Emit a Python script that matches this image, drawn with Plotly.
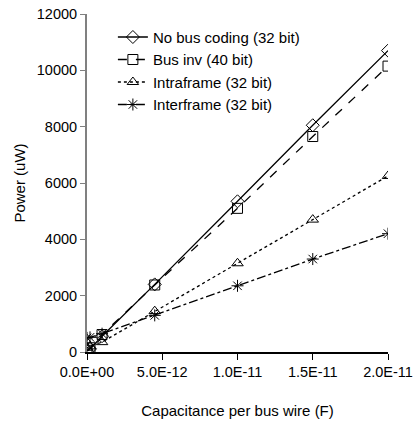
import plotly.graph_objects as go

cap = [0, 2e-13, 1e-12, 4.5e-12, 1e-11, 1.5e-11, 2e-11]
no_bus = [30, 110, 560, 2400, 5350, 8050, 10700]
bus_inv = [60, 150, 620, 2380, 5100, 7650, 10150]
intraframe = [150, 200, 350, 1450, 3150, 4700, 6250]
interframe = [500, 520, 650, 1300, 2350, 3300, 4200]

x_ticks = [0, 5e-12, 1e-11, 1.5e-11, 2e-11]
x_labels = ["0.0E+00", "5.0E-12", "1.0E-11", "1.5E-11", "2.0E-11"]
y_ticks = [0, 2000, 4000, 6000, 8000, 10000, 12000]

series = [
    ("No bus coding (32 bit)", no_bus, "diamond-open", "solid"),
    ("Bus inv (40 bit)", bus_inv, "square-open", "dash"),
    ("Intraframe (32 bit)", intraframe, "triangle-up-open", "dot"),
    ("Interframe (32 bit)", interframe, "asterisk-open", "dashdot"),
]

fig = go.Figure()
for name, vals, sym, dash in series:
    fig.add_trace(go.Scatter(
        x=cap, y=vals, mode="lines+markers", name=name,
        line=dict(color="black", width=1.3, dash=dash),
        marker=dict(symbol=sym, size=10, color="black", line=dict(color="black", width=1)),
    ))

fig.update_layout(
    width=414, height=421,
    margin=dict(l=87, r=26, t=14, b=69),
    paper_bgcolor="white", plot_bgcolor="white",
    font=dict(family="Liberation Sans, Arial", size=14.5, color="black"),
    showlegend=True,
    legend=dict(x=0.086, y=0.98, xanchor="left", yanchor="top", bgcolor="rgba(0,0,0,0)",
                font=dict(size=15), tracegroupgap=0, itemwidth=30),
)
fig.update_xaxes(
    range=[0, 2e-11], tickvals=x_ticks, ticktext=x_labels, automargin=False,
    ticklabeloverflow="allow",
    showline=True, linecolor="black", linewidth=1.5, ticks="outside", ticklen=6,
    tickcolor="black", showgrid=False, zeroline=False,
    title=dict(text="Capacitance per bus wire (F)", font=dict(size=15), standoff=26),
)
fig.update_yaxes(
    range=[0, 12000], tickvals=y_ticks, ticktext=[str(v) for v in y_ticks], automargin=False,
    ticklabeloverflow="allow",
    showline=True, linecolor="gray", linewidth=2, ticks="outside", ticklen=5,
    tickcolor="gray", showgrid=False, zeroline=False,
    title=dict(text="Power (uW)", font=dict(size=15), standoff=8),
)
# drop the default body margin so the figure sits at the page origin
fig.write_html("out.html", config={"displayModeBar": False},
               post_script="document.body.style.margin='0';")
